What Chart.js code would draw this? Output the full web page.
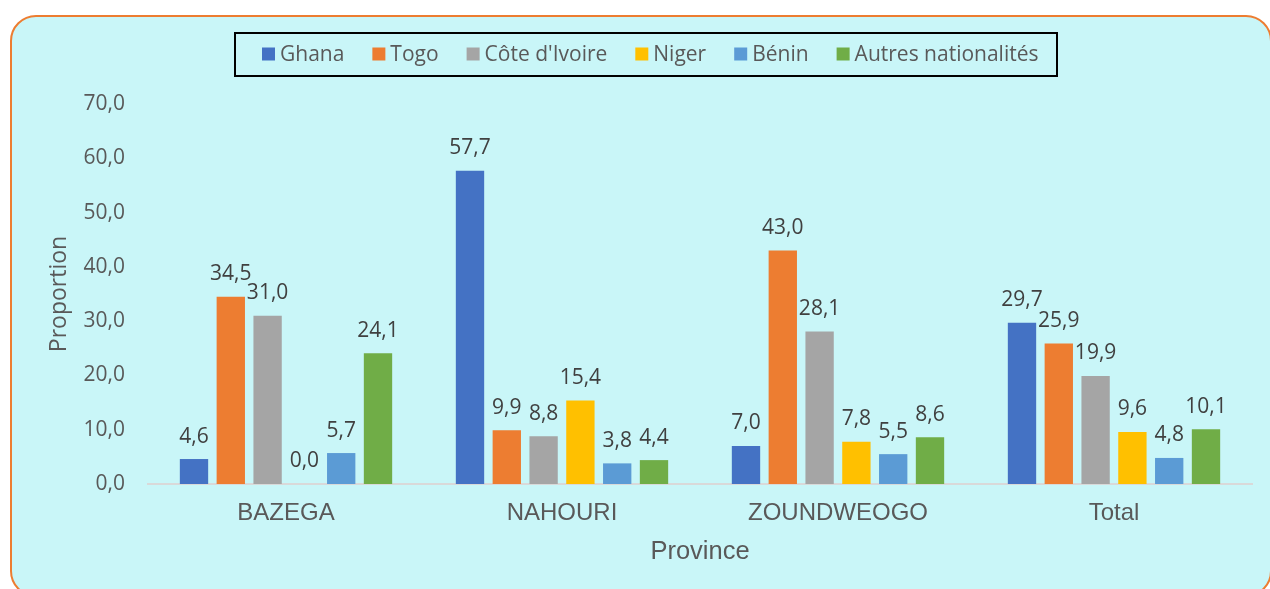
<!DOCTYPE html>
<html>
<head>
<meta charset="utf-8">
<script src="https://cdn.jsdelivr.net/npm/chart.js@4"></script>
<style>
  html, body { margin: 0; padding: 0; background: #fff; }
  #wrap { position: relative; width: 1270px; height: 589px; overflow: hidden; }
  #frame {
    position: absolute; left: 10px; top: 15px; width: 1262px; height: 582px;
    background: #c9f6f8; border: 2px solid #ed7d31; border-radius: 26px;
    box-sizing: border-box;
  }
  #chart { position: absolute; left: 0; top: 0; }
</style>
</head>
<body>
<div id="wrap">
  <div id="frame"></div>
  <canvas id="chart" width="1270" height="589"></canvas>
</div>
<script>
const provinces = ["BAZEGA", "NAHOURI", "ZOUNDWEOGO", "Total"];
const ghana = [4.6, 57.7, 7.0, 29.7];
const togo = [34.5, 9.9, 43.0, 25.9];
const coteIvoire = [31.0, 8.8, 28.1, 19.9];
const niger = [0.0, 15.4, 7.8, 9.6];
const benin = [5.7, 3.8, 5.5, 4.8];
const autres = [24.1, 4.4, 8.6, 10.1];
const yTicks = [0, 10, 20, 30, 40, 50, 60, 70];

const fmt = v => v.toFixed(1).replace(".", ",");
const textFont = "21px 'Open Sans'";

const barLabels = {
  id: "barLabels",
  afterDatasetsDraw(chart) {
    const ctx = chart.ctx;
    ctx.save();
    ctx.font = textFont;
    ctx.fillStyle = "#404040";
    ctx.textAlign = "center";
    ctx.textBaseline = "bottom";
    chart.data.datasets.forEach((ds, i) => {
      chart.getDatasetMeta(i).data.forEach((bar, j) => {
        ctx.fillText(fmt(ds.data[j]), bar.x, bar.y - 12);
      });
    });
    ctx.restore();
  }
};

// legend with a black frame, drawn by hand
const boxedLegend = {
  id: "boxedLegend",
  afterDraw(chart) {
    const ctx = chart.ctx;
    ctx.save();
    ctx.strokeStyle = "#000";
    ctx.lineWidth = 2;
    ctx.strokeRect(235, 33, 822, 43);
    ctx.font = textFont;
    ctx.textBaseline = "middle";
    let x = 262;
    const y = 54;
    chart.data.datasets.forEach(ds => {
      ctx.fillStyle = ds.backgroundColor;
      ctx.fillRect(x, y - 6.5, 13, 13);
      ctx.fillStyle = "#595959";
      ctx.fillText(ds.label, x + 18, y + 1);
      x += 18 + ctx.measureText(ds.label).width + 28;
    });
    ctx.restore();
  }
};

new Chart(document.getElementById("chart"), {
  type: "bar",
  data: {
    labels: provinces,
    datasets: [
      { label: "Ghana", data: ghana, backgroundColor: "#4472c4" },
      { label: "Togo", data: togo, backgroundColor: "#ed7d31" },
      { label: "Côte d'Ivoire", data: coteIvoire, backgroundColor: "#a5a5a5" },
      { label: "Niger", data: niger, backgroundColor: "#ffc000" },
      { label: "Bénin", data: benin, backgroundColor: "#5b9bd5" },
      { label: "Autres nationalités", data: autres, backgroundColor: "#70ad47" },
    ],
  },
  options: {
    responsive: false,
    animation: false,
    categoryPercentage: 0.8,
    barPercentage: 0.77,
    layout: { padding: { left: 10, right: 18, top: 104, bottom: 0 } },
    plugins: {
      legend: { display: false },
      tooltip: { enabled: false },
    },
    scales: {
      x: {
        afterFit: axis => { axis.height = 105; },
        grid: { display: false, drawTicks: false },
        border: { color: "#d9d9d9", width: 2 },
        ticks: { color: "#595959", font: { family: "'Liberation Sans'", size: 24 }, padding: 15 },
        title: { display: true, text: "Province", color: "#595959", font: { family: "'Liberation Sans'", size: 25.5 }, padding: { top: 0, bottom: 22 } },
      },
      y: {
        min: 0,
        max: 70,
        afterFit: axis => { axis.width = 138; },
        afterBuildTicks: axis => { axis.ticks = yTicks.map(v => ({ value: v })); },
        grid: { display: false, drawTicks: false },
        border: { display: false },
        ticks: { color: "#595959", font: { family: "'Open Sans'", size: 21 }, padding: 23, callback: v => fmt(v) },
        title: { display: true, text: "Proportion", color: "#595959", font: { family: "'Open Sans'", size: 23 }, padding: { top: 36, bottom: 0 } },
      },
    },
  },
  plugins: [barLabels, boxedLegend],
});
</script>
</body>
</html>
